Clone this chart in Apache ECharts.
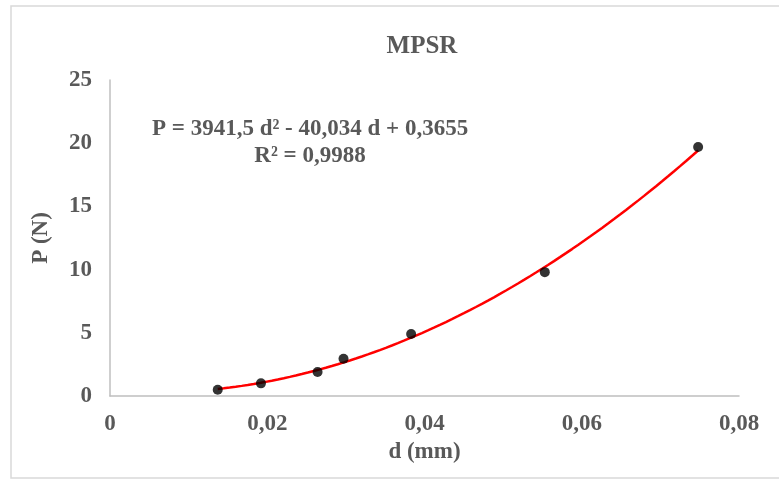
<!DOCTYPE html>
<html>
<head>
<meta charset="utf-8">
<script src="https://cdn.jsdelivr.net/npm/echarts@6/dist/echarts.min.js"></script>
<style>
html,body{margin:0;padding:0;background:#fff;}
#c{width:779px;height:479px;}
</style>
</head>
<body>
<div id="c"></div>
<script>
// Data
var dValues = [0.0137, 0.0192, 0.0264, 0.0297, 0.0383, 0.0553, 0.0748];
var pValues = [0.5, 1.0, 1.9, 2.95, 4.9, 9.8, 19.7];
// Trendline coefficients as printed on the chart: P = a d^2 + b d + c
var trendCoeffs = [3941.5, -40.034, 0.3655];
var equationText = 'P = 3941,5 d² - 40,034 d + 0,3655';
var r2Text = 'R² = 0,9988';
var xTicks = [0, 0.02, 0.04, 0.06, 0.08];
var yTicks = [0, 5, 10, 15, 20, 25];

var scatterData = dValues.map(function (d, i) { return [d, pValues[i]]; });
var trendData = [];
var dMin = dValues[0], dMax = dValues[dValues.length - 1];
for (var k = 0; k <= 80; k++) {
  var d = dMin + (dMax - dMin) * k / 80;
  trendData.push([d, trendCoeffs[0] * d * d + trendCoeffs[1] * d + trendCoeffs[2]]);
}

var FONT = '"Liberation Serif", "Times New Roman", serif';
var GREY = '#595959';

var chart = echarts.init(document.getElementById('c'), null, {renderer: 'canvas'});
chart.setOption({
  backgroundColor: '#fff',
  animation: false,
  title: {
    text: 'MPSR',
    left: 417, top: 29, textAlign: 'center',
    textStyle: {fontFamily: FONT, fontWeight: 'bold', fontSize: 25, color: GREY}
  },
  grid: {left: 110, right: 40, top: 80, bottom: 83},
  xAxis: {
    type: 'value', min: xTicks[0], max: xTicks[xTicks.length - 1], interval: 0.02,
    name: 'd (mm)', nameLocation: 'middle', nameGap: 40,
    nameTextStyle: {fontFamily: FONT, fontWeight: 'bold', fontSize: 23, color: GREY},
    axisLine: {show: true, lineStyle: {color: '#bfbfbf', width: 1.5}},
    axisTick: {show: false},
    splitLine: {show: false},
    axisLabel: {
      margin: 17, fontFamily: FONT, fontWeight: 'bold', fontSize: 23, color: GREY,
      formatter: function (v) { return v === 0 ? '0' : v.toFixed(2).replace('.', ','); }
    }
  },
  yAxis: {
    type: 'value', min: yTicks[0], max: yTicks[yTicks.length - 1], interval: 5,
    name: 'P (N)', nameLocation: 'middle', nameGap: 57, nameRotate: 90,
    nameTextStyle: {fontFamily: FONT, fontWeight: 'bold', fontSize: 23, color: GREY},
    axisLine: {show: true, lineStyle: {color: '#bfbfbf', width: 1.5}},
    axisTick: {show: false},
    splitLine: {show: false},
    axisLabel: {margin: 18, fontFamily: FONT, fontWeight: 'bold', fontSize: 23, color: GREY}
  },
  graphic: [
    {type: 'rect', shape: {x: 11, y: 6, width: 790, height: 472}, style: {fill: 'none', stroke: '#d9d9d9', lineWidth: 1.5}, silent: true},
    {type: 'text', left: 152, top: 118, style: {text: equationText, font: 'bold 23px ' + FONT, fill: GREY}},
    {type: 'text', x: 310, y: 145, style: {text: r2Text, font: 'bold 23px ' + FONT, fill: GREY, textAlign: 'center'}}
  ],
  series: [
    {
      type: 'line', data: trendData, showSymbol: false, smooth: false,
      lineStyle: {color: '#ff0000', width: 2.5}, z: 2
    },
    {
      type: 'scatter', data: scatterData, symbol: 'circle', symbolSize: 10,
      itemStyle: {color: '#000'}, z: 3
    }
  ]
});
</script>
</body>
</html>
